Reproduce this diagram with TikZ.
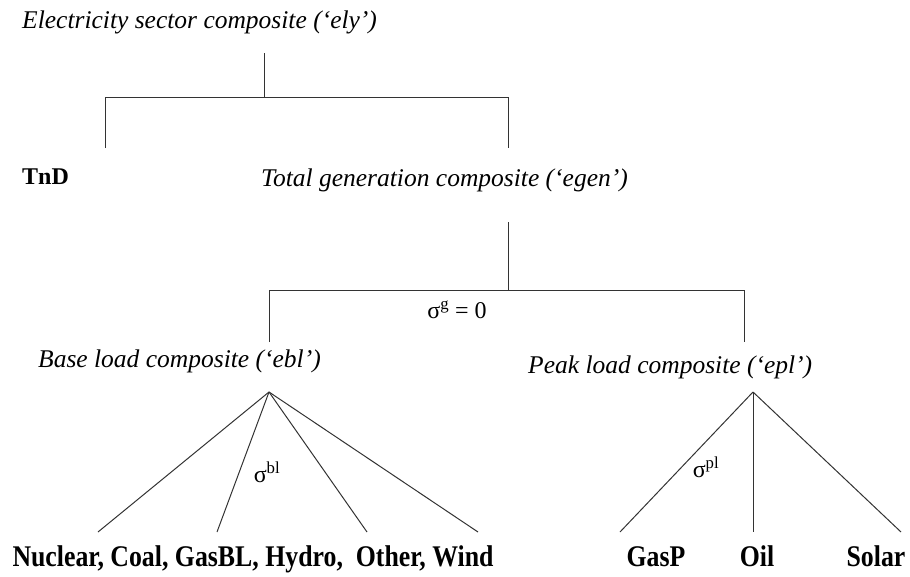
\documentclass[tikz,border=0pt]{standalone}
\usepackage{graphicx}
\usepackage{fontspec}
\setmainfont{Liberation Serif}
\newcommand{\cond}[1]{\scalebox{0.86}[1]{#1}}
\begin{document}
\begin{tikzpicture}[x=1pt,y=-1pt,
  lbl/.style={inner sep=0pt,anchor=base west,font=\fontsize{25.5}{30}\selectfont\itshape},
  tndstyle/.style={inner sep=0pt,anchor=base west,font=\fontsize{24}{28}\selectfont\bfseries},
  leaf/.style={inner sep=0pt,anchor=base,font=\fontsize{30}{34}\selectfont\bfseries},
  sig/.style={inner sep=0pt,font=\fontsize{24}{28}\selectfont},
  ln/.style={line width=1pt,black!80}]
\useasboundingbox (0,0) rectangle (910,576);
% texts
\node[lbl] (ely) at (22,28) {Electricity sector composite (‘ely’)};
\node[tndstyle] (tnd) at (22,184) {TnD};
\node[lbl] (egen) at (261,186) {Total generation composite (‘egen’)};
\node[sig] (sg) at (457,310) {σ\textsuperscript{g} = 0};
\node[lbl] (ebl) at (38,367) {Base load composite (‘ebl’)};
\node[lbl] (epl) at (528,373) {Peak load composite (‘epl’)};
\node[sig] (sbl) at (267,472) {σ\textsuperscript{bl}};
\node[sig] (spl) at (706,467) {σ\textsuperscript{pl}};
\node[leaf] (base) at (253,566) {\cond{Nuclear, Coal, GasBL, Hydro,\ \ Other, Wind}};
\node[leaf] (gasp) at (656,566) {\cond{GasP}};
\node[leaf] (oil) at (757,566) {\cond{Oil}};
\node[leaf] (solar) at (876,566) {\cond{Solar}};
% tree coordinates
\coordinate (e0) at (264,53);
\coordinate (e1) at (264,97);
\coordinate (eL) at (105,97);
\coordinate (eR) at (508,97);
\coordinate (eLd) at (105,148);
\coordinate (eRd) at (508,148);
\coordinate (g0) at (508,222);
\coordinate (g1) at (508,290);
\coordinate (gL) at (269,290);
\coordinate (gR) at (744,290);
\coordinate (gLd) at (269,342);
\coordinate (gRd) at (744,342);
\coordinate (ba) at (269,392);
\coordinate (b1) at (98,532);
\coordinate (b2) at (217,532);
\coordinate (b3) at (367,532);
\coordinate (b4) at (478,532);
\coordinate (pa) at (753,392);
\coordinate (p1) at (620,532);
\coordinate (p2) at (753,532);
\coordinate (p3) at (901,532);
\draw[ln] (e0) -- (e1);
\draw[ln] (eLd) -- (eL) -- (eR) -- (eRd);
\draw[ln] (g0) -- (g1);
\draw[ln] (gLd) -- (gL) -- (gR) -- (gRd);
\foreach \b in {b1,b2,b3,b4} \draw[ln] (ba) -- (\b);
\foreach \p in {p1,p2,p3} \draw[ln] (pa) -- (\p);
\end{tikzpicture}
\end{document}
